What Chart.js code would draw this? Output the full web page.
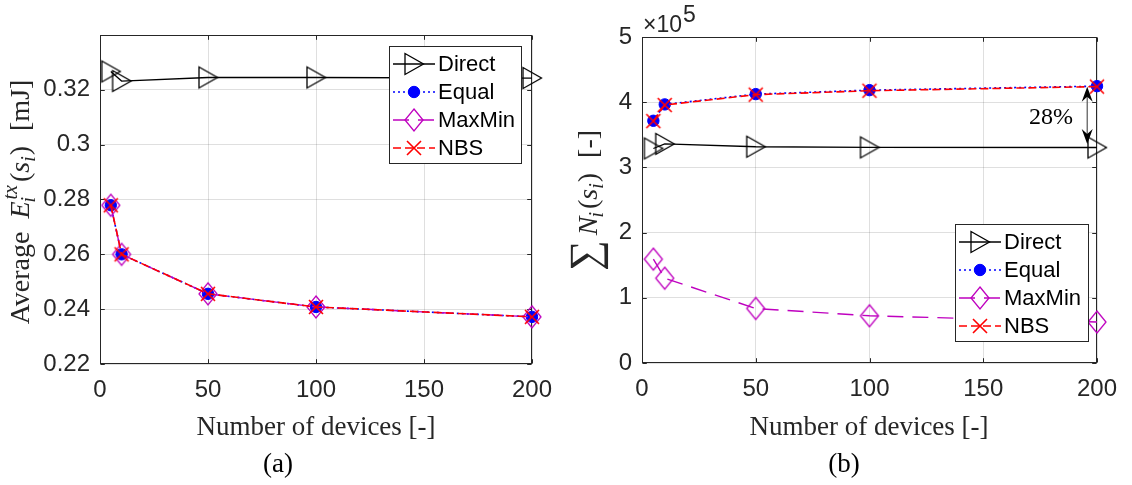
<!DOCTYPE html>
<html><head><meta charset="utf-8">
<script src="https://cdn.jsdelivr.net/npm/chart.js@4.4.1/dist/chart.umd.min.js"></script>
<style>
html,body{margin:0;padding:0;background:#fff;}
#wrap{position:relative;width:1132px;height:485px;overflow:hidden;background:#fff;}
canvas{position:absolute;top:0;}
</style></head><body>
<div id="wrap">
<canvas id="ca" width="566" height="485" style="left:0;width:566px;height:485px"></canvas>
<canvas id="cb" width="566" height="485" style="left:566px;width:566px;height:485px"></canvas>
</div>
<script>
// ---------------- data ----------------
const devices = [5, 10, 50, 100, 200];
const seriesNames = ['Direct', 'Equal', 'MaxMin', 'NBS'];
// (a) average transmit energy [mJ]
const energyDirect = [0.3267, 0.3232, 0.3245, 0.3245, 0.3243];
const energyEqual  = [0.2779, 0.2600, 0.2456, 0.2408, 0.2372];
const energyMaxMin = [0.2779, 0.2600, 0.2456, 0.2408, 0.2372];
const energyNBS    = [0.2779, 0.2600, 0.2456, 0.2408, 0.2372];
// (b) sum of N_i
const sumDirect = [329000, 336000, 331700, 330700, 330500];
const sumEqual  = [371500, 396600, 412400, 418500, 424600];
const sumMaxMin = [159300, 130000, 83600, 72400, 62800];
const sumNBS    = [371000, 395700, 411600, 417600, 423900];
// ticks
const xTicks  = [0, 50, 100, 150, 200];
const yTicksA = [0.22, 0.24, 0.26, 0.28, 0.30, 0.32];
const yTicksB = [0, 100000, 200000, 300000, 400000, 500000];
// annotation (b): gap between NBS/Equal and Direct at 200 devices
const gapX = 195.7, gapTop = 423600, gapBottom = 335800;
const gapLabel = '28%', gapLabelX = 179.8, gapLabelY = 375500;

// ---------------- styles ----------------
const SANS = '"Liberation Sans", Arial, Helvetica, sans-serif';
const SERIF = '"Liberation Serif", "Times New Roman", serif';
const GRID = 'rgba(38,38,38,0.15)';
const AXIS = '#262626';
const MAG = '#bf00bf';

function mk(w, h, draw) {
  const c = document.createElement('canvas');
  c.width = w; c.height = h;
  const g = c.getContext('2d');
  draw(g, w / 2, h / 2);
  return c;
}
const triImg = mk(24, 26, (g, cx, cy) => {
  g.strokeStyle = '#000'; g.lineWidth = 1.3; g.lineJoin = 'miter';
  g.beginPath(); g.moveTo(cx - 9, cy - 10.5); g.lineTo(cx + 9.5, cy); g.lineTo(cx - 9, cy + 10.5); g.closePath(); g.stroke();
});
const diaImg = mk(22, 26, (g, cx, cy) => {
  g.strokeStyle = MAG; g.lineWidth = 1.3;
  g.beginPath(); g.moveTo(cx, cy - 11); g.lineTo(cx + 9, cy); g.lineTo(cx, cy + 11); g.lineTo(cx - 9, cy); g.closePath(); g.stroke();
});
const crossImg = mk(20, 20, (g, cx, cy) => {
  g.strokeStyle = '#ff0000'; g.lineWidth = 1.6;
  g.beginPath(); g.moveTo(cx - 7, cy - 7); g.lineTo(cx + 7, cy + 7); g.moveTo(cx + 7, cy - 7); g.lineTo(cx - 7, cy + 7); g.stroke();
});

function series(label, values, color, dash, width, pointStyle, radius, fill, order) {
  return {
    label, data: devices.map((x, i) => ({ x, y: values[i] })),
    borderColor: color, backgroundColor: fill, borderWidth: width, borderDash: dash,
    pointStyle, pointRadius: radius, pointHoverRadius: radius,
    pointBorderColor: color, pointBackgroundColor: fill, pointBorderWidth: 1,
    tension: 0, clip: false, order, fill: false
  };
}
function datasetsFor(d, e, m, n) {
  return [
    series(seriesNames[0], d, '#000000', [], 1.3, triImg, 8, 'rgba(0,0,0,0)', 3),
    series(seriesNames[1], e, '#0000ff', [2, 3], 1.6, 'circle', 5.7, '#0000ff', 2),
    series(seriesNames[2], m, MAG, [16, 9], 1.4, diaImg, 8, 'rgba(0,0,0,0)', 1),
    series(seriesNames[3], n, '#ff0000', [8, 4], 1.6, crossImg, 8, 'rgba(0,0,0,0)', 0)
  ];
}

// ---------------- rich text helpers ----------------
function measureSegs(ctx, segs) {
  let w = 0;
  for (const s of segs) {
    w += (s.dx || 0);
    if (s.stack) {
      let m = 0;
      for (const p of s.stack) { ctx.font = p.f; m = Math.max(m, (p.dx || 0) + ctx.measureText(p.t).width); }
      s._w = m;
    } else { ctx.font = s.f; s._w = ctx.measureText(s.t).width; }
    w += s._w;
  }
  return w;
}
function drawSegs(ctx, segs, x0) {
  let x = x0;
  for (const s of segs) {
    x += (s.dx || 0);
    if (s.stack) {
      for (const p of s.stack) { ctx.font = p.f; ctx.fillText(p.t, x + (p.dx || 0), p.dy || 0); }
    } else { ctx.font = s.f; ctx.fillText(s.t, x, s.dy || 0); }
    x += s._w;
  }
}
function drawVerticalRich(ctx, segs, baseX, centerY) {
  ctx.save();
  ctx.translate(baseX, centerY);
  ctx.rotate(-Math.PI / 2);
  ctx.fillStyle = '#262626';
  ctx.textBaseline = 'alphabetic';
  ctx.textAlign = 'left';
  const w = measureSegs(ctx, segs);
  drawSegs(ctx, segs, -w / 2);
  ctx.restore();
}

// ---------------- plugins ----------------
const framePlugin = {
  id: 'frame',
  beforeDatasetsDraw(chart) {
    const { ctx, chartArea: a, scales: { x, y } } = chart;
    const L = Math.round(a.left) + 0.5, R = Math.round(a.right) - 0.5, T = Math.round(a.top) + 0.5, B = Math.round(a.bottom) - 0.5;
    ctx.save();
    ctx.strokeStyle = AXIS; ctx.lineWidth = 1;
    ctx.strokeRect(L, T, R - L, B - T);
    const tl = 4.3;
    ctx.beginPath();
    for (const v of xTicks) {
      const px = Math.round(x.getPixelForValue(v)) + 0.5;
      ctx.moveTo(px, B); ctx.lineTo(px, B - tl);
      ctx.moveTo(px, T); ctx.lineTo(px, T + tl);
    }
    for (const t of y.ticks) {
      const py = Math.round(y.getPixelForValue(t.value)) + 0.5;
      ctx.moveTo(L, py); ctx.lineTo(L + tl, py);
      ctx.moveTo(R, py); ctx.lineTo(R - tl, py);
    }
    ctx.stroke();
    ctx.restore();
  }
};

function drawLegend(chart, box) {
  const ctx = chart.ctx;
  ctx.save();
  ctx.fillStyle = '#fff';
  ctx.fillRect(box.x, box.y, box.w, box.h);
  ctx.strokeStyle = AXIS; ctx.lineWidth = 1;
  ctx.strokeRect(box.x + 0.5, box.y + 0.5, box.w, box.h);
  const sets = seriesNames.map(nm => chart.data.datasets.find(d => d.label === nm));
  sets.forEach((d, i) => {
    const yy = box.y + 18 + i * 28;
    ctx.setLineDash(d.borderDash || []);
    ctx.strokeStyle = d.borderColor; ctx.lineWidth = d.borderWidth;
    ctx.beginPath(); ctx.moveTo(box.x + 4, yy); ctx.lineTo(box.x + 46, yy); ctx.stroke();
    ctx.setLineDash([]);
    const mx = box.x + 25;
    if (d.pointStyle === 'circle') {
      ctx.fillStyle = d.pointBackgroundColor; ctx.strokeStyle = d.pointBorderColor; ctx.lineWidth = 1;
      ctx.beginPath(); ctx.arc(mx, yy, d.pointRadius, 0, Math.PI * 2); ctx.fill(); ctx.stroke();
    } else {
      const im = d.pointStyle;
      ctx.drawImage(im, mx - im.width / 2, yy - im.height / 2);
    }
    ctx.fillStyle = '#000';
    ctx.font = '22px ' + SANS;
    ctx.textBaseline = 'middle'; ctx.textAlign = 'left';
    ctx.fillText(d.label, box.x + 49, yy + 1);
  });
  ctx.restore();
}

function drawXTitle(ctx, cx, sub) {
  ctx.save();
  ctx.fillStyle = '#262626';
  ctx.font = '27px ' + SERIF;
  ctx.textAlign = 'center'; ctx.textBaseline = 'alphabetic';
  ctx.fillText('Number of devices [-]', cx, 435);
  ctx.fillStyle = '#000';
  ctx.fillText(sub, 278, 472);
  ctx.restore();
}

const R28 = '28px ' + SERIF, I28 = 'italic 28px ' + SERIF, I20 = 'italic 20px ' + SERIF;

const overlayA = {
  id: 'overlayA',
  afterDraw(chart) {
    const ctx = chart.ctx;
    drawLegend(chart, { x: 389, y: 46, w: 132, h: 117 });
    drawXTitle(ctx, 316, '(a)');
    const segs = [
      { t: 'Average', f: R28 },
      { t: 'E', f: I28, dx: 13 },
      { stack: [{ t: 'tx', f: I20, dy: -12, dx: 2 }, { t: 'i', f: I20, dy: 6, dx: -1 }] },
      { t: '(', f: R28, dx: 3 },
      { t: 's', f: I28 },
      { t: 'i', f: I20, dy: 6 },
      { t: ')', f: R28, dx: 1 },
      { t: '[mJ]', f: R28, dx: 15 }
    ];
    drawVerticalRich(ctx, segs, 29, 202);
  }
};

const overlayB = {
  id: 'overlayB',
  afterDraw(chart) {
    const ctx = chart.ctx;
    const { x, y } = chart.scales;
    // annotation arrow
    const ax = x.getPixelForValue(gapX);
    const yT = y.getPixelForValue(gapTop), yB = y.getPixelForValue(gapBottom);
    ctx.save();
    ctx.strokeStyle = '#555'; ctx.lineWidth = 1.2;
    ctx.beginPath(); ctx.moveTo(ax, yT + 6); ctx.lineTo(ax, yB - 6); ctx.stroke();
    ctx.fillStyle = '#000';
    function head(tipY, dir) {
      ctx.beginPath();
      ctx.moveTo(ax, tipY);
      ctx.lineTo(ax - 5.5, tipY + dir * 15);
      ctx.lineTo(ax, tipY + dir * 10);
      ctx.lineTo(ax + 5.5, tipY + dir * 15);
      ctx.closePath(); ctx.fill();
    }
    head(yT, 1); head(yB, -1);
    ctx.font = '24px ' + SERIF;
    ctx.textAlign = 'center'; ctx.textBaseline = 'middle';
    ctx.fillText(gapLabel, x.getPixelForValue(gapLabelX), y.getPixelForValue(gapLabelY));
    // exponent label
    ctx.fillStyle = '#262626';
    ctx.textAlign = 'left'; ctx.textBaseline = 'alphabetic';
    ctx.font = '23px ' + SANS;
    const ex = 77;
    ctx.fillText('\u00d710', ex, 32);
    const w10 = ctx.measureText('\u00d710').width;
    ctx.fillText('5', ex + w10 + 1, 22);
    ctx.restore();

    drawLegend(chart, { x: 389, y: 224, w: 133, h: 117 });
    drawXTitle(ctx, 303, '(b)');

    // y title with large summation sign
    const sigFont = (px) => px + 'px ' + SERIF;
    ctx.save();
    ctx.font = sigFont(40);
    const mm = ctx.measureText('\u2211');
    const hh = (mm.actualBoundingBoxAscent + mm.actualBoundingBoxDescent) || 36;
    const size = 40 * 39 / hh;
    ctx.font = sigFont(size);
    const m2 = ctx.measureText('\u2211');
    const asc = m2.actualBoundingBoxAscent || 28;
    ctx.restore();
    const segs = [
      { t: '\u2211', f: sigFont(size), dy: -27 + asc },
      { t: 'N', f: I28, dx: 5 },
      { t: 'i', f: I20, dy: 6, dx: -1 },
      { t: '(', f: R28, dx: 3 },
      { t: 's', f: I28 },
      { t: 'i', f: I20, dy: 6 },
      { t: ')', f: R28, dx: 1 },
      { t: '[-]', f: R28, dx: 15 }
    ];
    drawVerticalRich(ctx, segs, 31, 200.5);
  }
};

// ---------------- charts ----------------
function makeChart(canvas, cfg) {
  return new Chart(canvas, {
    type: 'line',
    data: { datasets: cfg.datasets },
    options: {
      responsive: false, animation: false, devicePixelRatio: 1, events: [],
      layout: { padding: { left: 0, top: cfg.area.top, right: 566 - cfg.area.right, bottom: 0 } },
      plugins: { legend: { display: false }, tooltip: { enabled: false }, title: { display: false } },
      scales: {
        x: {
          type: 'linear', min: 0, max: 200,
          afterBuildTicks: s => { s.ticks = xTicks.map(v => ({ value: v })); },
          afterFit: s => { s.height = 485 - cfg.area.bottom; },
          grid: { color: GRID, lineWidth: 1, drawTicks: false },
          border: { display: false },
          ticks: { font: { family: SANS, size: 24 }, color: '#262626', padding: 12, maxRotation: 0, autoSkip: false, callback: v => String(v) }
        },
        y: {
          type: 'linear', min: cfg.yMin, max: cfg.yMax,
          afterBuildTicks: s => { s.ticks = cfg.yTicks.map(v => ({ value: v })); },
          afterFit: s => { s.width = cfg.area.left; },
          grid: { color: GRID, lineWidth: 1, drawTicks: false },
          border: { display: false },
          ticks: { font: { family: SANS, size: 24 }, color: '#262626', padding: 10, autoSkip: false, callback: cfg.yFmt }
        }
      }
    },
    plugins: [framePlugin, cfg.overlay]
  });
}

makeChart(document.getElementById('ca'), {
  datasets: datasetsFor(energyDirect, energyEqual, energyMaxMin, energyNBS),
  area: { left: 100, right: 532, top: 35, bottom: 364 },
  yMin: 0.22, yMax: 0.34, yTicks: yTicksA,
  yFmt: v => String(+Number(v).toFixed(2)),
  overlay: overlayA
});
makeChart(document.getElementById('cb'), {
  datasets: datasetsFor(sumDirect, sumEqual, sumMaxMin, sumNBS),
  area: { left: 76, right: 531, top: 37, bottom: 363 },
  yMin: 0, yMax: 500000, yTicks: yTicksB,
  yFmt: v => String(Math.round(v / 100000)),
  overlay: overlayB
});
</script>
</body></html>
